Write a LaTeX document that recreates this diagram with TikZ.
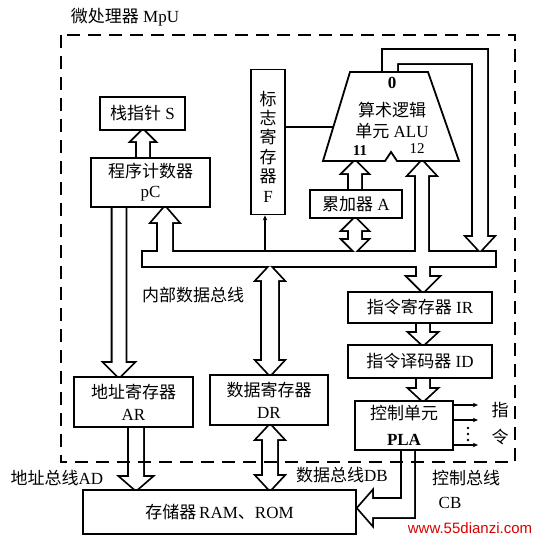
\documentclass[tikz,border=0pt]{standalone}
\usepackage{fontspec}
\setmainfont{Liberation Serif}
\newfontfamily\cjk{Noto Sans CJK SC}
\newfontfamily\wmfont{Liberation Sans}
\usetikzlibrary{arrows.meta}
\newcommand\zh[1]{{\cjk #1}}
% single hollow arrow: x, tail y, tip y, half shaft, half head, signed head length
\newcommand\hArrow[6]{({#1-(#4)},{#2}) -- ({#1-(#4)},{#3-(#6)}) -- ({#1-(#5)},{#3-(#6)}) -- ({#1},{#3}) -- ({#1+(#5)},{#3-(#6)}) -- ({#1+(#4)},{#3-(#6)}) -- ({#1+(#4)},{#2}) -- cycle}
% double hollow arrow: x, top tip, bottom tip, half shaft, half head, head length
\newcommand\dArrow[6]{({#1},{#2}) -- ({#1+(#5)},{#2+(#6)}) -- ({#1+(#4)},{#2+(#6)}) -- ({#1+(#4)},{#3-(#6)}) -- ({#1+(#5)},{#3-(#6)}) -- ({#1},{#3}) -- ({#1-(#5)},{#3-(#6)}) -- ({#1-(#4)},{#3-(#6)}) -- ({#1-(#4)},{#2+(#6)}) -- ({#1-(#5)},{#2+(#6)}) -- cycle}
\newcommand\busshapes[1]{%
 \path[#1] (143,252) rectangle (495,266);
 \path[#1] \hArrow{165}{258}{207}{7}{13}{-15};
 \path[#1] \hArrow{143}{162}{130}{6}{11}{-11};
 \path[#1] \hArrow{119}{203}{377}{6.5}{14}{14};
 \path[#1] \hArrow{136}{423}{490}{7}{15}{13};
 \path[#1] \dArrow{270}{425}{490}{7}{13}{14};
 \path[#1] \dArrow{270}{266}{375}{8}{13}{14};
 \path[#1] \dArrow{355}{218}{252}{6}{12}{12};
 \path[#1] \hArrow{355}{194}{161}{6}{12}{-12};
 \path[#1] \hArrow{422}{258}{161}{6}{13}{-14};
 \path[#1] (383,78) -- (383,50) -- (487,50) -- (487,237) -- (493,237) -- (480,251) -- (467,237) -- (473,237) -- (473,63) -- (397,63) -- (397,78) -- cycle;
 \path[#1] \hArrow{423}{260}{292}{6}{15}{15};
 \path[#1] \hArrow{423}{319}{345}{6}{13}{12};
 \path[#1] \hArrow{423}{374}{401}{6}{13}{12};
 \path[#1] (402,446) -- (402,499) -- (372,499) -- (372,492) -- (358,508) -- (372,524) -- (372,517) -- (414,517) -- (414,446) -- cycle;
}
\tikzset{
  every node/.style={font=\fontsize{17}{20}\selectfont, inner sep=0pt},
  box/.style={draw, line width=1.8pt, fill=white, align=center},
  thinline/.style={line width=1.6pt},
  smallarrow/.style={line width=1.3pt, -{Stealth[length=5pt,width=4.5pt]}},
  mpu/.style={line width=2.4pt, dash pattern=on 13pt off 8pt}
}
\begin{document}
\begin{tikzpicture}[x=1pt,y=-1pt]
\useasboundingbox (0,0) rectangle (538,541);
% union of bus shapes
\busshapes{draw, line width=3.6pt}
\busshapes{fill=white}
\coordinate (busN) at (0,252);
% boxes
\node[box, minimum width=85, minimum height=33] (S) at (142.5,113.5) {\zh{栈指针} S};
\node[box, minimum width=119, minimum height=49] (PC) at (150.5,182.5) {\zh{程序计数器}\\pC};
\node[box, minimum width=34, minimum height=145] (F) at (268,142) {};
\node[align=center, font=\fontsize{17}{19.4}\selectfont] (Ftext) at (268,146.5) {\zh{标}\\\zh{志}\\\zh{寄}\\\zh{存}\\\zh{器}\\F};
\node[box, minimum width=92, minimum height=28] (A) at (356,204) {\zh{累加器} A};
\node[box, minimum width=144, minimum height=31] (IR) at (420,307.5) {\zh{指令寄存器} IR};
\node[box, minimum width=144, minimum height=33] (ID) at (420,361.5) {\zh{指令译码器} ID};
\node[box, minimum width=98, minimum height=49, font=\fontsize{17}{26}\selectfont] (PLA) at (404,425.5) {\zh{控制单元}\\\textbf{PLA}};
\node[box, minimum width=119, minimum height=50, font=\fontsize{17}{22}\selectfont] (AR) at (133.5,402) {\zh{地址寄存器}\\AR};
\node[box, minimum width=118, minimum height=50, font=\fontsize{17}{22}\selectfont] (DR) at (269,400) {\zh{数据寄存器}\\DR};
\node[box, minimum width=273, minimum height=44] (MEM) at (219.5,512) {\zh{存储器}\,RAM\zh{、}ROM};
% ALU
\draw[line width=1.8pt, fill=white] (350,72) -- (428,72) -- (459,161) -- (397,161) -- (391,152) -- (385,161) -- (323,161) -- cycle;
\coordinate (aluL) at (333.5,127);
\node (alu0) at (392,83) {\textbf{0}};
\node[font=\fontsize{17}{21}\selectfont, align=center] (alutext) at (392,120) {\zh{算术逻辑}\\\zh{单元} ALU};
\node[font=\fontsize{15}{18}\selectfont] (in1) at (360,151) {\textbf{11}};
\node[font=\fontsize{15}{18}\selectfont] (in2) at (417,149) {12};
% thin connectors
\draw[thinline] (F.east |- aluL) -- (aluL);
\draw[smallarrow, {Stealth[length=5pt,width=4.5pt]}-] ([xshift=-3pt]F.south) -- ([xshift=-3pt]F.south |- busN);
\foreach \d in {20.5,5.5,-19.5}
  \draw[smallarrow] ([yshift=\d pt]PLA.east) -- ++(24,0);
\foreach \yy in {428,434,440}
  \fill (468,\yy) circle (1.3);
% labels
\node (title) at (125,17) {\zh{微处理器} MpU};
\node (ibus) at (193,295) {\zh{内部数据总线}};
\node (abus) at (57,478) {\zh{地址总线}AD};
\node (dbus) at (342,475) {\zh{数据总线}DB};
\node (cbus) at (466,478) {\zh{控制总线}};
\node (cb) at (450,503) {CB};
\node (zhi) at (500,410) {\zh{指}};
\node (ling) at (500,437) {\zh{令}};
\node[text=red!85!black, font=\wmfont\fontsize{15}{18}\selectfont] (wm) at (470,528) {www.55dianzi.com};
% dashed MPU boundary
\draw[mpu] (61,35) rectangle (515,462);
\end{tikzpicture}
\end{document}
